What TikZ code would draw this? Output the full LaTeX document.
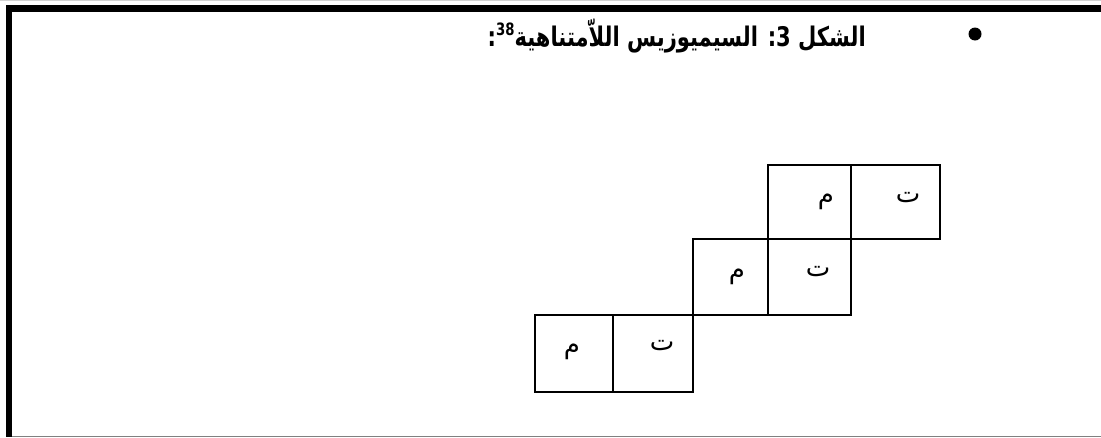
\documentclass[tikz,border=0pt]{standalone}
\usepackage{fontspec}
\usepackage{tikz}
\usetikzlibrary{positioning, calc}
\newfontfamily\arabicfont[Script=Arabic]{DejaVu Sans}
\TeXXeTstate=1

\tikzset{
    cell/.style={draw, line width=1.5pt, inner sep=0pt, anchor=north west},
    letter/.style={inner sep=0pt, anchor=base, font=\arabicfont\fontsize{26}{26}\selectfont},
}

\begin{document}
\begin{tikzpicture}[x=1pt, y=-1pt]
    \useasboundingbox (0,0) rectangle (1101,437);

    % Frame
    \draw[gray!35, line width=1pt] (0,0.5) -- (1101,0.5);
    \fill (6,5) rectangle (1101,12);
    \fill (6,5) rectangle (12,437);
    \draw[gray, line width=1pt] (12,436) -- (1101,436);

    % Title
    \node[circle, fill, inner sep=0pt, minimum size=13pt] (bullet) at (975,34) {};
    \node[anchor=base east, inner sep=0pt, font=\arabicfont\bfseries\fontsize{27}{27}\selectfont] (title) at (866,46)
        {\scalebox{0.78}[1]{\beginR الشكل \beginL3\endL: السيميوزيس اللاّمتناهية\raisebox{11pt}{\fontsize{17}{17}\selectfont 38}:\endR}};

    % Cells, top row
    \node[cell, minimum width=83pt, minimum height=74pt] (mTop) at (767,164) {};
    \node[cell, minimum width=89pt, minimum height=74pt] (tTop) at (850,164) {};
    % Cells, middle row
    \node[cell, minimum width=75pt, minimum height=76pt] (mMid) at (692,238) {};
    \node[cell, minimum width=83pt, minimum height=76pt] (tMid) at (767,238) {};
    % Cells, bottom row
    \node[cell, minimum width=78pt, minimum height=77pt] (mBot) at (534,314) {};
    \node[cell, minimum width=80pt, minimum height=77pt] (tBot) at (612,314) {};

    % Letters
    \node[letter] (mTopL) at (826,203) {\beginR م\endR};
    \node[letter] (tTopL) at (908,202) {\beginR ت\endR};
    \node[letter] (mMidL) at (737,278) {\beginR م\endR};
    \node[letter] (tMidL) at (818,276) {\beginR ت\endR};
    \node[letter] (mBotL) at (572,353) {\beginR م\endR};
    \node[letter] (tBotL) at (662,350) {\beginR ت\endR};
\end{tikzpicture}
\end{document}
